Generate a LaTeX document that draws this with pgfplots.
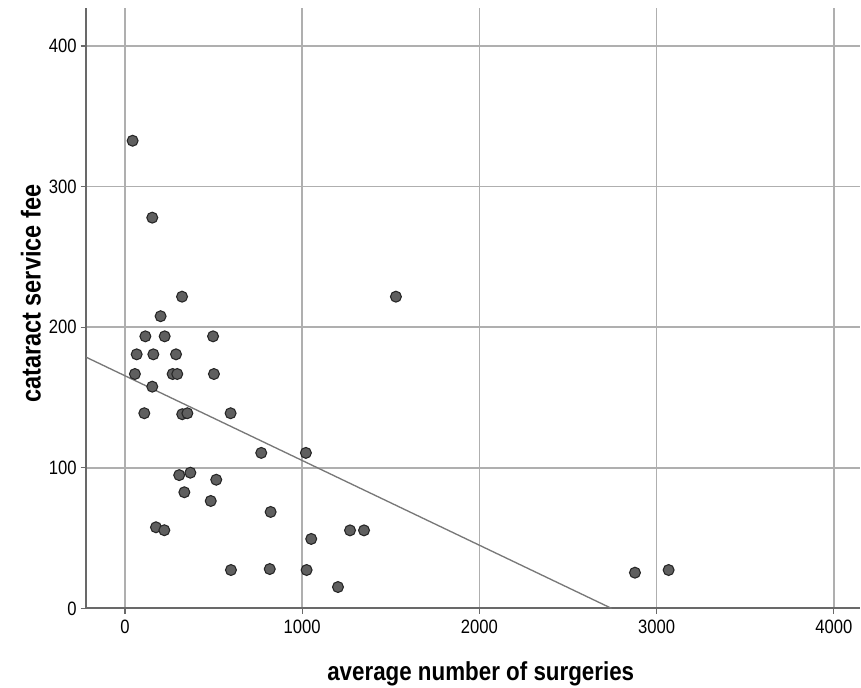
\documentclass[border=0pt]{standalone}
\usepackage{pgfplots}
\pgfplotsset{compat=1.18}
\usepackage{fontspec}
\setmainfont{Liberation Sans}[FakeStretch=0.86]
\definecolor{gridc}{RGB}{175,175,175}
\definecolor{spinec}{RGB}{105,105,105}
\definecolor{markc}{RGB}{95,95,95}
\definecolor{linec}{RGB}{120,120,120}
\begin{document}
\begin{tikzpicture}[x=1pt,y=1pt]
\begin{axis}[
  name=ax,
  at={(0,0)}, anchor=south west,
  scale only axis,
  width=580.5pt, height=450.3pt,
  xmin=-220, xmax=4148, ymin=0, ymax=427,
  axis x line*=bottom, axis y line*=left,
  axis line style={color=spinec, line width=1.4pt, -},
  xtick={0,1000,2000,3000,4000},
  ytick={0,100,200,300,400},
  grid=major,
  major grid style={color=gridc, line width=1.2pt},
  tick align=outside,
  major tick length=4pt,
  tick style={color=spinec, line width=1pt},
  /pgf/number format/assume math mode=true,
  /pgf/number format/1000 sep={},
  ticklabel style={font=\fontsize{14.5}{16}\selectfont, text=black},
  xticklabel style={yshift=-1pt},
  yticklabel style={xshift=0.5pt},
  xlabel={average number of surgeries},
  ylabel={cataract service fee},
  xlabel style={font=\fontsize{19.5}{22}\selectfont\bfseries, at={(axis description cs:0.51,-0.1193)}, anchor=base},
  ylabel style={font=\fontsize{20.5}{22}\selectfont\bfseries, at={(axis description cs:-0.0585,0.524)}, anchor=base, rotate=0},
  clip=true,
]
\addplot[color=linec, line width=1pt] coordinates {(-220,178.7) (2746,0)};
\addplot[only marks, mark=*, mark size=4.1pt, mark options={fill=markc, draw=black!85, line width=0.8pt}] coordinates {
(43,332.6) (154,277.9) (322,221.7) (201,207.8) (115,193.5) (224,193.5) (497,193.5)
(66,180.7) (160,180.7) (288,180.7) (56,166.7) (269,166.7) (295,166.7) (502,166.7)
(154,157.7) (109,138.8) (323,138.1) (352,138.8) (596,138.8) (769,110.6) (1021,110.6)
(306,94.8) (369,96.5) (515,91.5) (335,82.6) (484,76.4) (822,68.6) (175,57.7) (222,55.6)
(1051,49.4) (1270,55.5) (1349,55.5) (598,27.3) (817,28) (1025,27.3) (1202,15.2)
(1529,221.7) (2878,25.4) (3068,27.3)
};
\end{axis}
\pgfresetboundingbox
\path (ax.south west) ++(-64.5pt,-58.95pt) rectangle ++(645.75pt,515.25pt);
\end{tikzpicture}
\end{document}
